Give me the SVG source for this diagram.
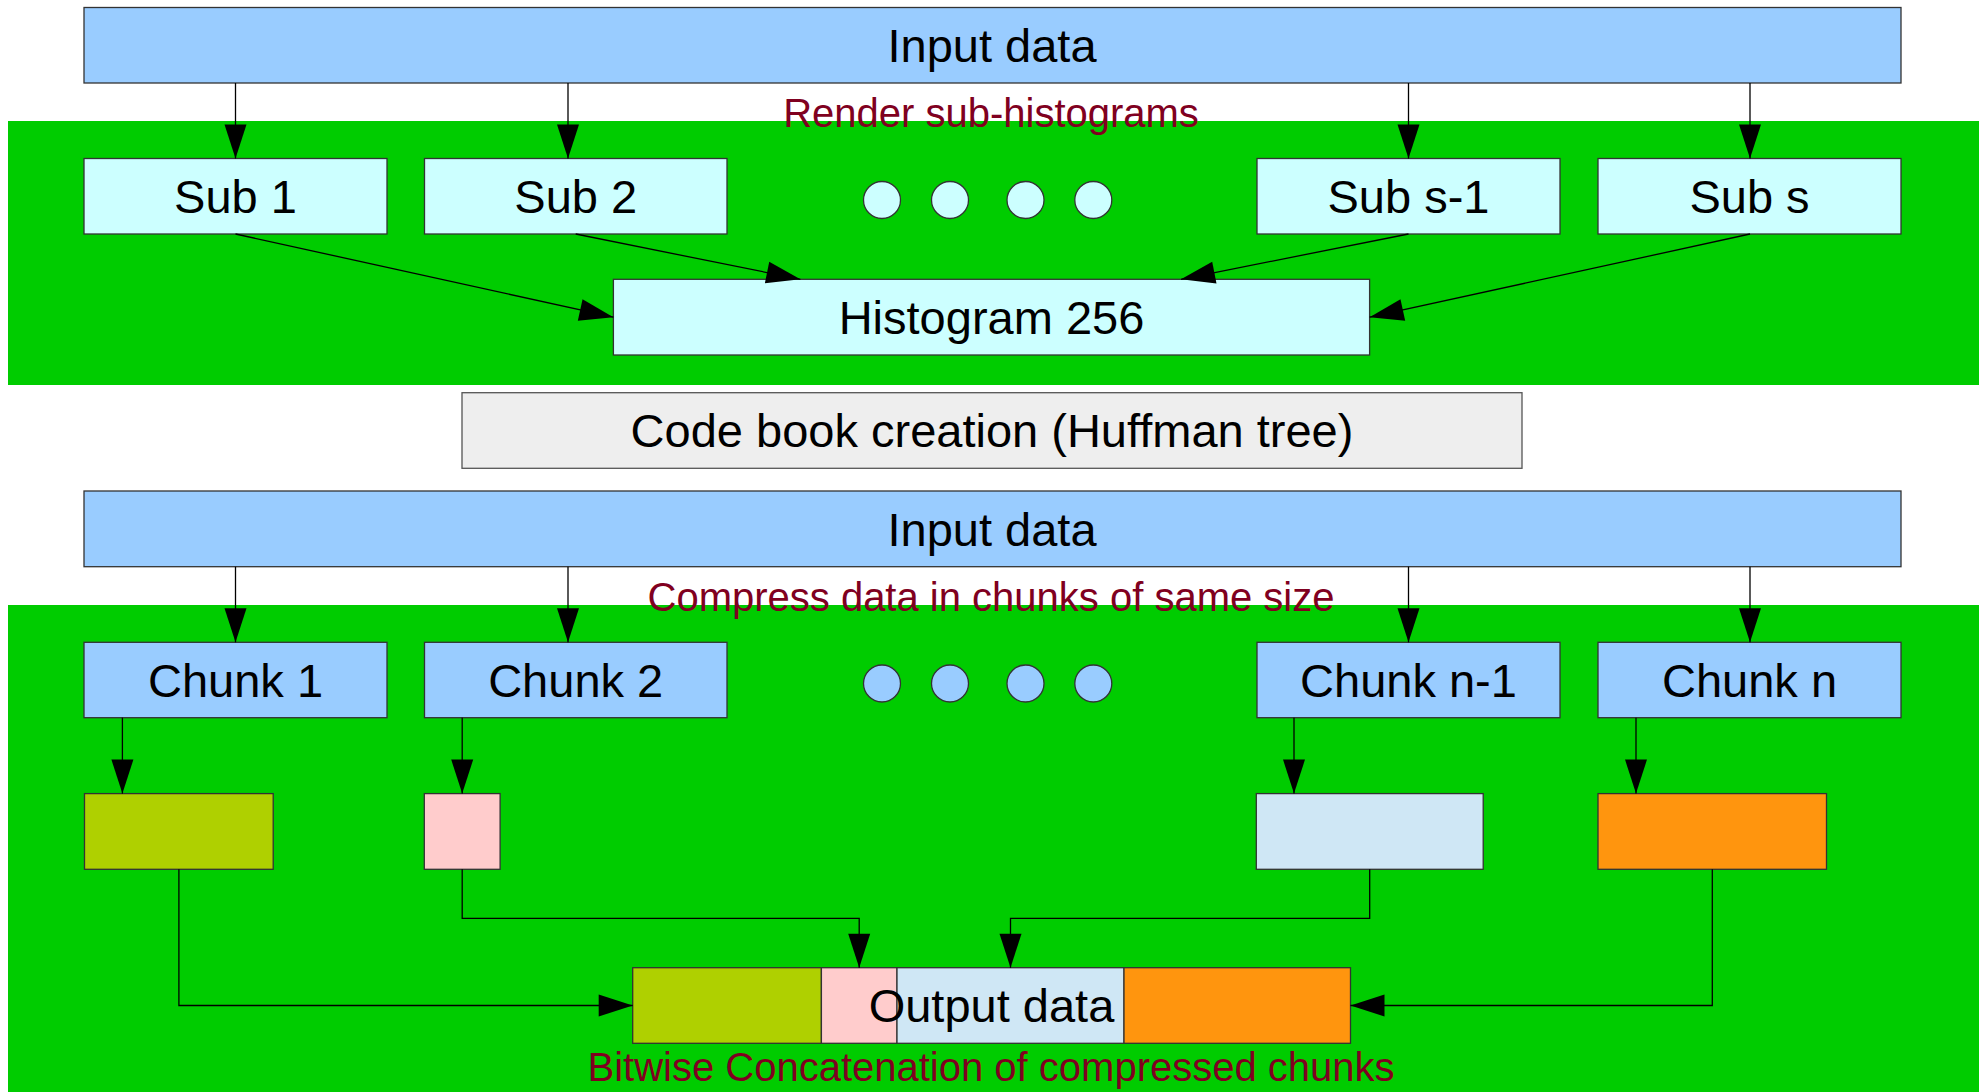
<svg xmlns="http://www.w3.org/2000/svg" width="1979" height="1092" viewBox="0 0 1979 1092">
  <style>
    .box { stroke: #333333; stroke-width: 1.3; }
    .in { fill: #99ccff; }
    .sub { fill: #ccffff; }
    .band { fill: #00cc00; }
    .lbl { font-family: "Liberation Sans", Arial, sans-serif; font-size: 47px; fill: #000000; text-anchor: middle; }
    .cap { font-family: "Liberation Sans", Arial, sans-serif; font-size: 40px; fill: #800020; text-anchor: middle; }
    .wire { fill: none; stroke: #000000; stroke-width: 1.3; marker-end: url(#head); }
  </style>
  <defs>
    <marker id="head" markerUnits="userSpaceOnUse" markerWidth="34" markerHeight="22" refX="34" refY="11" orient="auto" overflow="visible">
      <path d="M0 0 L34 11 L0 22 Z" fill="#000000"/>
    </marker>
  </defs>

  <rect x="0" y="0" width="1979" height="1092" fill="#ffffff"/>

  <!-- stage 1: sub-histograms -->
  <g id="stage-histogram">
    <rect class="band" x="8" y="121" width="1971" height="264"/>
    <text class="cap" x="991" y="127">Render sub-histograms</text>
  </g>

  <!-- stage 2: compression -->
  <g id="stage-compress">
    <rect class="band" x="8" y="605" width="1971" height="487"/>
    <text class="cap" x="991" y="611">Compress data in chunks of same size</text>
    <text class="cap" x="991" y="1081">Bitwise Concatenation of compressed chunks</text>
  </g>

  <g id="input-1">
    <rect class="box in" x="84" y="7.5" width="1817" height="75.5"/>
    <text class="lbl" x="992" y="62">Input data</text>
  </g>

  <g id="sub-1">
    <rect class="box sub" x="84" y="158.5" width="303" height="75.5"/>
    <text class="lbl" x="235.5" y="213">Sub 1</text>
  </g>
  <g id="sub-2">
    <rect class="box sub" x="424.5" y="158.5" width="302.5" height="75.5"/>
    <text class="lbl" x="575.7" y="213">Sub 2</text>
  </g>
  <g id="sub-ellipsis">
    <circle class="box sub" cx="882" cy="200" r="18.5"/>
    <circle class="box sub" cx="950" cy="200" r="18.5"/>
    <circle class="box sub" cx="1025.5" cy="200" r="18.5"/>
    <circle class="box sub" cx="1093.3" cy="200" r="18.5"/>
  </g>
  <g id="sub-s-1">
    <rect class="box sub" x="1257" y="158.5" width="303" height="75.5"/>
    <text class="lbl" x="1408.5" y="213">Sub s-1</text>
  </g>
  <g id="sub-s">
    <rect class="box sub" x="1598" y="158.5" width="303" height="75.5"/>
    <text class="lbl" x="1749.5" y="213">Sub s</text>
  </g>

  <g id="histogram">
    <rect class="box sub" x="613.4" y="279.3" width="756.2" height="75.7"/>
    <text class="lbl" x="991.5" y="334">Histogram 256</text>
  </g>

  <g id="code-book">
    <rect x="462" y="392.7" width="1060" height="75.6" fill="#eeeeee" stroke="#555555" stroke-width="1.3"/>
    <text class="lbl" x="992" y="447.3">Code book creation (Huffman tree)</text>
  </g>

  <g id="input-2">
    <rect class="box in" x="84" y="491" width="1817" height="75.7"/>
    <text class="lbl" x="992" y="545.7">Input data</text>
  </g>

  <g id="chunk-1">
    <rect class="box in" x="84" y="642.3" width="303" height="75.4"/>
    <text class="lbl" x="235.5" y="696.8">Chunk 1</text>
  </g>
  <g id="chunk-2">
    <rect class="box in" x="424.5" y="642.3" width="302.5" height="75.4"/>
    <text class="lbl" x="575.7" y="696.8">Chunk 2</text>
  </g>
  <g id="chunk-ellipsis">
    <circle class="box in" cx="882" cy="683.5" r="18.5"/>
    <circle class="box in" cx="950" cy="683.5" r="18.5"/>
    <circle class="box in" cx="1025.5" cy="683.5" r="18.5"/>
    <circle class="box in" cx="1093.3" cy="683.5" r="18.5"/>
  </g>
  <g id="chunk-n-1">
    <rect class="box in" x="1257" y="642.3" width="303" height="75.4"/>
    <text class="lbl" x="1408.5" y="696.8">Chunk n-1</text>
  </g>
  <g id="chunk-n">
    <rect class="box in" x="1598" y="642.3" width="303" height="75.4"/>
    <text class="lbl" x="1749.5" y="696.8">Chunk n</text>
  </g>

  <!-- compressed chunks -->
  <g id="packed-1"><rect class="box" x="84.5" y="793.6" width="188.7" height="75.7" fill="#afd000"/></g>
  <g id="packed-2"><rect class="box" x="424.3" y="793.6" width="75.8" height="75.7" fill="#ffcccc"/></g>
  <g id="packed-n-1"><rect class="box" x="1256.3" y="793.6" width="226.9" height="75.7" fill="#cfe7f5"/></g>
  <g id="packed-n"><rect class="box" x="1598" y="793.6" width="228.5" height="75.7" fill="#ff950e"/></g>

  <!-- concatenated output -->
  <g id="output">
    <rect class="box" x="632.7" y="967.7" width="188.7" height="75.6" fill="#afd000"/>
    <rect class="box" x="821.4" y="967.7" width="75.6" height="75.6" fill="#ffcccc"/>
    <rect class="box" x="897" y="967.7" width="227" height="75.6" fill="#cfe7f5"/>
    <rect class="box" x="1124" y="967.7" width="226.5" height="75.6" fill="#ff950e"/>
    <text class="lbl" x="991.5" y="1021.5">Output data</text>
  </g>

  <g id="connectors">
    <!-- input data to sub-histograms -->
    <path class="wire" d="M235.5 83 V158.5"/>
    <path class="wire" d="M568 83 V158.5"/>
    <path class="wire" d="M1408.5 83 V158.5"/>
    <path class="wire" d="M1750 83 V158.5"/>
    <!-- sub-histograms merged -->
    <path class="wire" d="M235.5 234 L613.4 317.2"/>
    <path class="wire" d="M575.7 234 L800.4 279.3"/>
    <path class="wire" d="M1408.5 234 L1181 279.3"/>
    <path class="wire" d="M1750 234 L1369.6 317.2"/>
    <!-- input data to chunks -->
    <path class="wire" d="M235.5 566.7 V642.3"/>
    <path class="wire" d="M568 566.7 V642.3"/>
    <path class="wire" d="M1408.5 566.7 V642.3"/>
    <path class="wire" d="M1750 566.7 V642.3"/>
    <!-- chunks to compressed chunks -->
    <path class="wire" d="M122.4 717.7 V793.6"/>
    <path class="wire" d="M462.2 717.7 V793.6"/>
    <path class="wire" d="M1294 717.7 V793.6"/>
    <path class="wire" d="M1636 717.7 V793.6"/>
    <!-- compressed chunks to output -->
    <path class="wire" d="M178.9 869.3 V1005.5 H632.7"/>
    <path class="wire" d="M462.2 869.3 V918.3 H859.2 V967.7"/>
    <path class="wire" d="M1369.7 869.3 V918.3 H1010.5 V967.7"/>
    <path class="wire" d="M1712.3 869.3 V1005.5 H1350.5"/>
  </g>
</svg>
